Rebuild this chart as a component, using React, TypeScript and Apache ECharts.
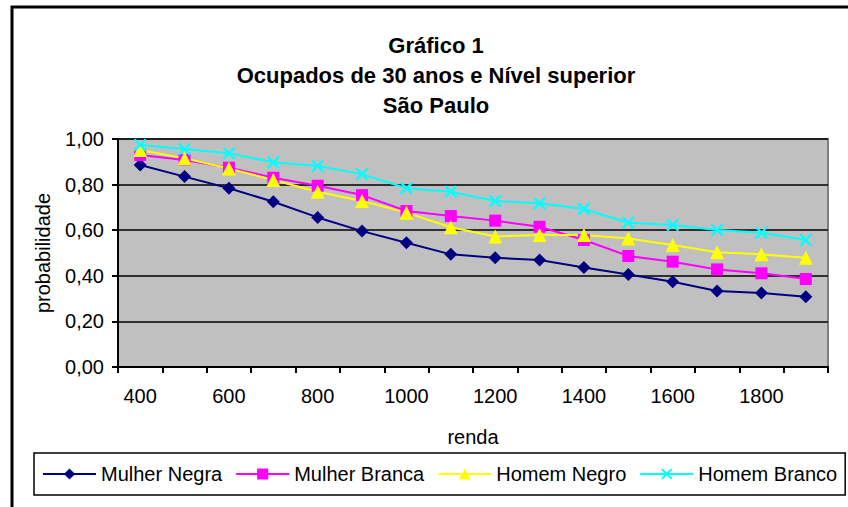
import React, { useEffect, useRef } from "react";
import * as echarts from "echarts";

const categories = ["400", "500", "600", "700", "800", "900", "1000", "1100", "1200", "1300", "1400", "1500", "1600", "1700", "1800", "1900"];
const mulherNegra = [0.886, 0.835, 0.784, 0.725, 0.656, 0.596, 0.545, 0.494, 0.479, 0.469, 0.436, 0.406, 0.374, 0.333, 0.325, 0.308];
const mulherBranca = [0.93, 0.908, 0.874, 0.83, 0.795, 0.754, 0.684, 0.662, 0.642, 0.615, 0.557, 0.487, 0.462, 0.428, 0.411, 0.386];
const homemNegro = [0.952, 0.915, 0.871, 0.82, 0.769, 0.728, 0.677, 0.613, 0.572, 0.579, 0.579, 0.564, 0.535, 0.503, 0.494, 0.479];
const homemBranco = [0.974, 0.956, 0.937, 0.898, 0.882, 0.846, 0.784, 0.769, 0.728, 0.718, 0.693, 0.633, 0.623, 0.601, 0.589, 0.557];
const yTicks = [0, 0.2, 0.4, 0.6, 0.8, 1.0];

const FONT = "'Liberation Sans', Arial, sans-serif";
const XMARK = "path://M0,1.5L1.5,0L6,4.5L10.5,0L12,1.5L7.5,6L12,10.5L10.5,12L6,7.5L1.5,12L0,10.5L4.5,6Z";

export default function App() {
  const ref = useRef<HTMLDivElement>(null);
  useEffect(() => {
    if (!ref.current) return;
    const chart = echarts.init(ref.current, null, { renderer: "svg" });
    const mk = (name: string, data: number[], color: string, symbol: string, size: number) => ({
      name,
      type: "line",
      data,
      symbol,
      symbolSize: size,
      showSymbol: true,
      lineStyle: { color, width: 2 },
      itemStyle: { color },
      z: 3,
    });
    chart.setOption({
      animation: false,
      backgroundColor: "#ffffff",
      textStyle: { fontFamily: FONT },
      title: {
        text: "Gráfico 1\nOcupados de 30 anos e Nível superior\nSão Paulo",
        left: 436,
        top: 30,
        padding: 0,
        textAlign: "center",
        textStyle: { fontFamily: FONT, fontSize: 22, fontWeight: "bold", color: "#000", lineHeight: 30 },
      },
      graphic: [
        {
          type: "rect",
          shape: { x: 12, y: 7, width: 900, height: 600 },
          style: { fill: "none", stroke: "#000", lineWidth: 3 },
          silent: true,
        },
      ],
      legend: {
        left: 34,
        top: 453,
        padding: [11, 8],
        itemGap: 13,
        itemWidth: 53,
        itemHeight: 14,
        borderColor: "#000",
        borderWidth: 1.5,
        textStyle: { fontFamily: FONT, fontSize: 20, color: "#000" },
        data: ["Mulher Negra", "Mulher Branca", "Homem Negro", "Homem Branco"],
      },
      grid: {
        left: 118,
        top: 139,
        width: 710,
        height: 228,
        show: true,
        backgroundColor: "#C0C0C0",
        borderColor: "#808080",
        borderWidth: 2,
      },
      xAxis: {
        type: "category",
        data: categories,
        boundaryGap: true,
        name: "renda",
        nameLocation: "middle",
        nameGap: 60,
        nameTextStyle: { fontFamily: FONT, fontSize: 20, color: "#000" },
        axisLine: { lineStyle: { color: "#000", width: 2 } },
        axisTick: { show: true, interval: 0, length: 6, lineStyle: { color: "#000", width: 2 } },
        axisLabel: { interval: 1, margin: 19, fontFamily: FONT, fontSize: 20, color: "#000" },
        splitLine: { show: false },
      },
      yAxis: {
        type: "value",
        min: yTicks[0],
        max: yTicks[yTicks.length - 1],
        interval: 0.2,
        name: "probabilidade",
        nameLocation: "middle",
        nameGap: 65,
        nameTextStyle: { fontFamily: FONT, fontSize: 20, color: "#000" },
        axisLine: { show: true, lineStyle: { color: "#000", width: 2 } },
        axisTick: { show: true, length: 6, lineStyle: { color: "#000", width: 2 } },
        axisLabel: {
          margin: 14,
          fontFamily: FONT,
          fontSize: 20,
          color: "#000",
          formatter: (v: number) => v.toFixed(2).replace(".", ","),
        },
        splitLine: { show: true, lineStyle: { color: "#000", width: 1.5 } },
      },
      series: [
        mk("Mulher Negra", mulherNegra, "#000080", "diamond", 13),
        mk("Mulher Branca", mulherBranca, "#FF00FF", "rect", 12),
        mk("Homem Negro", homemNegro, "#FFFF00", "triangle", 14),
        mk("Homem Branco", homemBranco, "#00FFFF", XMARK, 13),
      ],
    });
    return () => chart.dispose();
  }, []);
  return (
    <div
      ref={ref}
      style={{ position: "fixed", left: 0, top: 0, width: 848, height: 507 }}
    />
  );
}
